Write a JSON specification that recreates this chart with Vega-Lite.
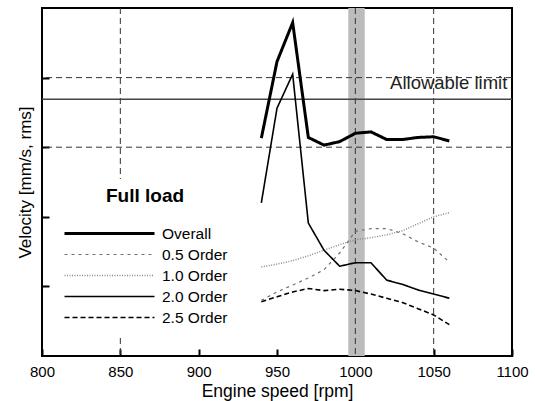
{
  "$schema": "https://vega.github.io/schema/vega-lite/v6.json",
  "width": 470,
  "height": 348,
  "autosize": {"type": "none"},
  "padding": {"left": 42, "top": 8, "right": 23, "bottom": 45},
  "background": "white",
  "config": {
    "font": "Liberation Sans",
    "view": {"stroke": "black", "strokeWidth": 2},
    "axis": {"grid": false, "domain": false, "tickColor": "black", "tickWidth": 2, "labelColor": "black", "titleColor": "black", "labelFont": "Liberation Sans", "titleFont": "Liberation Sans", "titleFontWeight": "normal"}
  },
  "datasets": {
    "series": [
      {"rpm": 940, "v": 3.13, "s": "Overall"},
      {"rpm": 950, "v": 4.23, "s": "Overall"},
      {"rpm": 960, "v": 4.79, "s": "Overall"},
      {"rpm": 970, "v": 3.14, "s": "Overall"},
      {"rpm": 980, "v": 3.03, "s": "Overall"},
      {"rpm": 990, "v": 3.08, "s": "Overall"},
      {"rpm": 1000, "v": 3.2, "s": "Overall"},
      {"rpm": 1010, "v": 3.22, "s": "Overall"},
      {"rpm": 1020, "v": 3.11, "s": "Overall"},
      {"rpm": 1030, "v": 3.11, "s": "Overall"},
      {"rpm": 1040, "v": 3.14, "s": "Overall"},
      {"rpm": 1050, "v": 3.15, "s": "Overall"},
      {"rpm": 1060, "v": 3.09, "s": "Overall"},
      {"rpm": 940, "v": 0.8, "s": "0.5 Order"},
      {"rpm": 950, "v": 0.92, "s": "0.5 Order"},
      {"rpm": 960, "v": 1.02, "s": "0.5 Order"},
      {"rpm": 970, "v": 1.12, "s": "0.5 Order"},
      {"rpm": 980, "v": 1.24, "s": "0.5 Order"},
      {"rpm": 990, "v": 1.48, "s": "0.5 Order"},
      {"rpm": 1000, "v": 1.79, "s": "0.5 Order"},
      {"rpm": 1010, "v": 1.83, "s": "0.5 Order"},
      {"rpm": 1020, "v": 1.83, "s": "0.5 Order"},
      {"rpm": 1030, "v": 1.76, "s": "0.5 Order"},
      {"rpm": 1040, "v": 1.64, "s": "0.5 Order"},
      {"rpm": 1050, "v": 1.55, "s": "0.5 Order"},
      {"rpm": 1060, "v": 1.35, "s": "0.5 Order"},
      {"rpm": 940, "v": 1.28, "s": "1.0 Order"},
      {"rpm": 950, "v": 1.32, "s": "1.0 Order"},
      {"rpm": 960, "v": 1.37, "s": "1.0 Order"},
      {"rpm": 970, "v": 1.44, "s": "1.0 Order"},
      {"rpm": 980, "v": 1.52, "s": "1.0 Order"},
      {"rpm": 990, "v": 1.6, "s": "1.0 Order"},
      {"rpm": 1000, "v": 1.67, "s": "1.0 Order"},
      {"rpm": 1010, "v": 1.7, "s": "1.0 Order"},
      {"rpm": 1020, "v": 1.74, "s": "1.0 Order"},
      {"rpm": 1030, "v": 1.8, "s": "1.0 Order"},
      {"rpm": 1040, "v": 1.9, "s": "1.0 Order"},
      {"rpm": 1050, "v": 2.0, "s": "1.0 Order"},
      {"rpm": 1060, "v": 2.06, "s": "1.0 Order"},
      {"rpm": 940, "v": 2.2, "s": "2.0 Order"},
      {"rpm": 950, "v": 3.56, "s": "2.0 Order"},
      {"rpm": 960, "v": 4.05, "s": "2.0 Order"},
      {"rpm": 970, "v": 1.91, "s": "2.0 Order"},
      {"rpm": 980, "v": 1.52, "s": "2.0 Order"},
      {"rpm": 990, "v": 1.29, "s": "2.0 Order"},
      {"rpm": 1000, "v": 1.34, "s": "2.0 Order"},
      {"rpm": 1010, "v": 1.34, "s": "2.0 Order"},
      {"rpm": 1020, "v": 1.09, "s": "2.0 Order"},
      {"rpm": 1030, "v": 1.03, "s": "2.0 Order"},
      {"rpm": 1040, "v": 0.95, "s": "2.0 Order"},
      {"rpm": 1050, "v": 0.89, "s": "2.0 Order"},
      {"rpm": 1060, "v": 0.83, "s": "2.0 Order"},
      {"rpm": 940, "v": 0.78, "s": "2.5 Order"},
      {"rpm": 950, "v": 0.85, "s": "2.5 Order"},
      {"rpm": 960, "v": 0.92, "s": "2.5 Order"},
      {"rpm": 970, "v": 0.97, "s": "2.5 Order"},
      {"rpm": 980, "v": 0.94, "s": "2.5 Order"},
      {"rpm": 990, "v": 0.96, "s": "2.5 Order"},
      {"rpm": 1000, "v": 0.94, "s": "2.5 Order"},
      {"rpm": 1010, "v": 0.89, "s": "2.5 Order"},
      {"rpm": 1020, "v": 0.83, "s": "2.5 Order"},
      {"rpm": 1030, "v": 0.77, "s": "2.5 Order"},
      {"rpm": 1040, "v": 0.68, "s": "2.5 Order"},
      {"rpm": 1050, "v": 0.59, "s": "2.5 Order"},
      {"rpm": 1060, "v": 0.45, "s": "2.5 Order"}
    ]
  },
  "layer": [
    {
      "data": {"values": [{"a": 995.5, "b": 1006}]},
      "mark": {"type": "rect", "color": "#bcbcbc"},
      "encoding": {
        "x": {"field": "a", "type": "quantitative", "scale": {"domain": [800, 1100], "nice": false},
          "axis": {"values": [800, 850, 900, 950, 1000, 1050, 1100], "format": "d", "title": "Engine speed [rpm]", "tickSize": -7, "labelPadding": 15, "labelFontSize": 15, "titleFontSize": 17.5, "titlePadding": 3, "labelFlush": false}},
        "x2": {"field": "b"},
        "y": {"datum": 0, "type": "quantitative", "scale": {"domain": [0, 5], "nice": false},
          "axis": {"values": [1, 2, 3, 4], "labels": false, "title": "Velocity [mm/s, rms]", "tickSize": -7, "titleFontSize": 17, "titlePadding": 7}},
        "y2": {"datum": 5}
      }
    },
    {
      "data": {"values": [{"g": 3}, {"g": 4}]},
      "mark": {"type": "rule", "color": "#333", "strokeDash": [6, 4], "strokeWidth": 1},
      "encoding": {"y": {"field": "g", "type": "quantitative"}}
    },
    {
      "data": {"values": [{"g": 850}, {"g": 1000}, {"g": 1050}]},
      "mark": {"type": "rule", "color": "#333", "strokeDash": [6, 4], "strokeWidth": 1},
      "encoding": {"x": {"field": "g", "type": "quantitative"}}
    },
    {
      "data": {"values": [{"g": 3.69}]},
      "mark": {"type": "rule", "color": "#444", "strokeWidth": 1.5},
      "encoding": {"y": {"field": "g", "type": "quantitative"}}
    },
    {
      "data": {"values": [{"rpm": 1097, "v": 3.83, "t": "Allowable limit"}]},
      "mark": {"type": "text", "align": "right", "baseline": "alphabetic", "fontSize": 18.5, "color": "#222", "font": "Liberation Sans"},
      "encoding": {"x": {"field": "rpm", "type": "quantitative"}, "y": {"field": "v", "type": "quantitative"}, "text": {"field": "t"}}
    },
    {
      "data": {"name": "series"},
      "mark": {"type": "line"},
      "encoding": {
        "x": {"field": "rpm", "type": "quantitative"},
        "y": {"field": "v", "type": "quantitative"},
        "color": {"field": "s", "type": "nominal",
          "scale": {"domain": ["Overall", "0.5 Order", "1.0 Order", "2.0 Order", "2.5 Order"], "range": ["#000000", "#6f6f6f", "#8a8a8a", "#000000", "#000000"]},
          "legend": {"title": "Full load", "orient": "none", "legendX": 13, "legendY": 171, "fillColor": "white", "padding": 8,
            "titleFontSize": 19, "titleFontWeight": "bold", "titleColor": "black", "titleAnchor": "middle", "titlePadding": 20,
            "labelFontSize": 15.5, "labelColor": "black", "symbolType": "stroke", "symbolSize": 8100, "clipHeight": 15, "rowPadding": 5, "labelOffset": 6}},
        "strokeDash": {"field": "s", "type": "nominal",
          "scale": {"domain": ["Overall", "0.5 Order", "1.0 Order", "2.0 Order", "2.5 Order"], "range": [[1, 0], [3, 4], [1, 1.5], [1, 0], [5, 3]]}},
        "strokeWidth": {"field": "s", "type": "nominal",
          "scale": {"type": "ordinal", "domain": ["Overall", "0.5 Order", "1.0 Order", "2.0 Order", "2.5 Order"], "range": [3, 1.2, 1.5, 1.6, 1.6]}}
      }
    }
  ]
}
